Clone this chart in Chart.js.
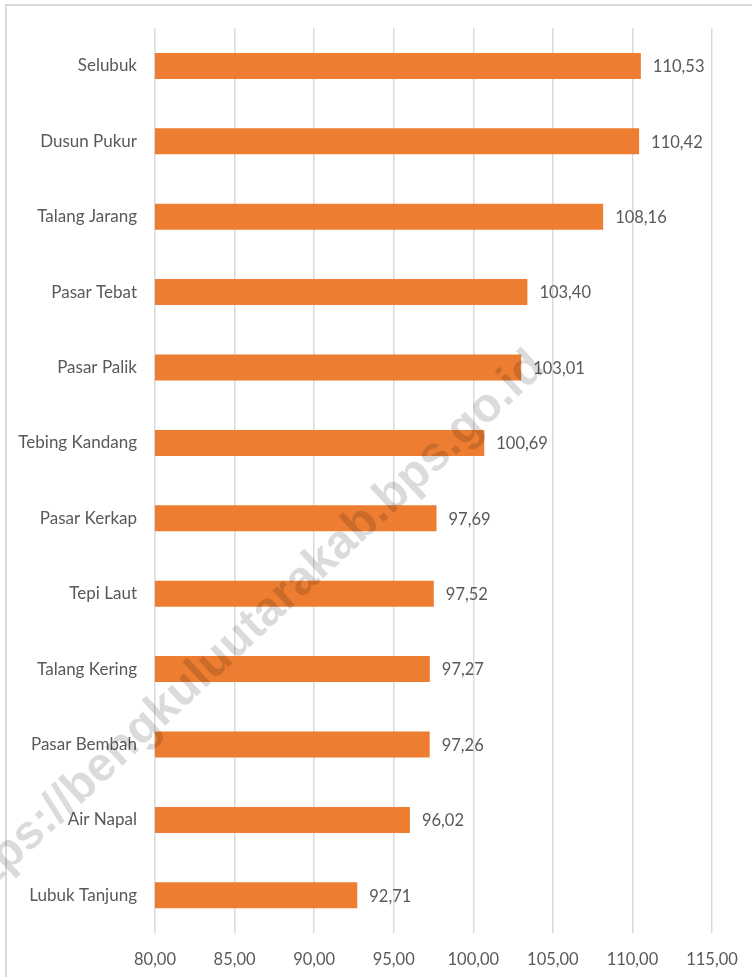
<!DOCTYPE html>
<html>
<head>
<meta charset="utf-8">
<script src="https://cdn.jsdelivr.net/npm/chart.js@4.4.1/dist/chart.umd.min.js"></script>
<style>
  html, body { margin: 0; padding: 0; background: #fff; overflow: hidden; }
  #frame {
    position: absolute; left: 5px; top: 4px; width: 800px; height: 1000px;
    border: 2px solid #d9d9d9; box-sizing: border-box;
  }
  #wrap { position: absolute; left: 0; top: 0; width: 752px; height: 977px; }
</style>
</head>
<body>
<div id="frame"></div>
<div id="wrap"><canvas id="chart" width="752" height="977"></canvas></div>
<script>
const categories = [
  "Selubuk", "Dusun Pukur", "Talang Jarang", "Pasar Tebat", "Pasar Palik",
  "Tebing Kandang", "Pasar Kerkap", "Tepi Laut", "Talang Kering",
  "Pasar Bembah", "Air Napal", "Lubuk Tanjung"
];
const values = [110.53, 110.42, 108.16, 103.40, 103.01, 100.69, 97.69, 97.52, 97.27, 97.26, 96.02, 92.71];
const xTicks = [80, 85, 90, 95, 100, 105, 110, 115];
const watermark = "https://bengkuluutarakab.bps.go.id";

const textColor = "#595959";
const fontFamily = "Lato, 'Open Sans', sans-serif";

function fmt(v) {
  return v.toFixed(2).replace(".", ",");
}

// value labels next to each bar
const valueLabels = {
  id: "valueLabels",
  afterDatasetsDraw(chart) {
    const ctx = chart.ctx;
    const meta = chart.getDatasetMeta(0);
    ctx.save();
    ctx.font = "16.5px " + fontFamily;
    ctx.fillStyle = textColor;
    ctx.textAlign = "left";
    ctx.textBaseline = "middle";
    meta.data.forEach((bar, i) => {
      ctx.fillText(fmt(values[i]), bar.x + 12, bar.y + 1);
    });
    ctx.restore();
  }
};

// diagonal site watermark over the chart
const watermarkText = {
  id: "watermarkText",
  afterDraw(chart) {
    const ctx = chart.ctx;
    ctx.save();
    ctx.translate(538, 360);
    ctx.rotate(-43 * Math.PI / 180);
    ctx.font = "bold 48px 'Liberation Sans', Arial, sans-serif";
    ctx.fillStyle = "rgba(0,0,0,0.14)";
    ctx.textAlign = "right";
    ctx.textBaseline = "middle";
    ctx.fillText(watermark, 0, 0);
    ctx.restore();
  }
};

const ctx = document.getElementById("chart").getContext("2d");
new Chart(ctx, {
  type: "bar",
  data: {
    labels: categories,
    datasets: [{
      data: values,
      backgroundColor: "#ED7D31",
      borderWidth: 0,
      barPercentage: 0.345,
      categoryPercentage: 1
    }]
  },
  options: {
    indexAxis: "y",
    responsive: false,
    animation: false,
    events: [],
    layout: { padding: { top: 26, right: 40, bottom: 0, left: 0 } },
    plugins: {
      legend: { display: false },
      tooltip: { enabled: false }
    },
    scales: {
      x: {
        min: 80,
        max: 115,
        afterBuildTicks(scale) {
          scale.ticks = xTicks.map((v) => ({ value: v }));
        },
        afterFit(scale) {
          scale.height = 44;
          scale.paddingLeft = 0;
          scale.paddingRight = 0;
        },
        grid: { color: "#d9d9d9", lineWidth: 1.5, drawTicks: false },
        border: { display: false },
        ticks: {
          padding: 17,
          color: textColor,
          font: { family: fontFamily, size: 16.5 },
          callback: (v) => fmt(v)
        }
      },
      y: {
        afterFit(scale) { scale.width = 155; },
        grid: { display: false, drawTicks: false },
        border: { display: false },
        ticks: {
          padding: 18,
          color: textColor,
          font: { family: fontFamily, size: 17 }
        }
      }
    }
  },
  plugins: [valueLabels, watermarkText]
});
</script>
</body>
</html>
